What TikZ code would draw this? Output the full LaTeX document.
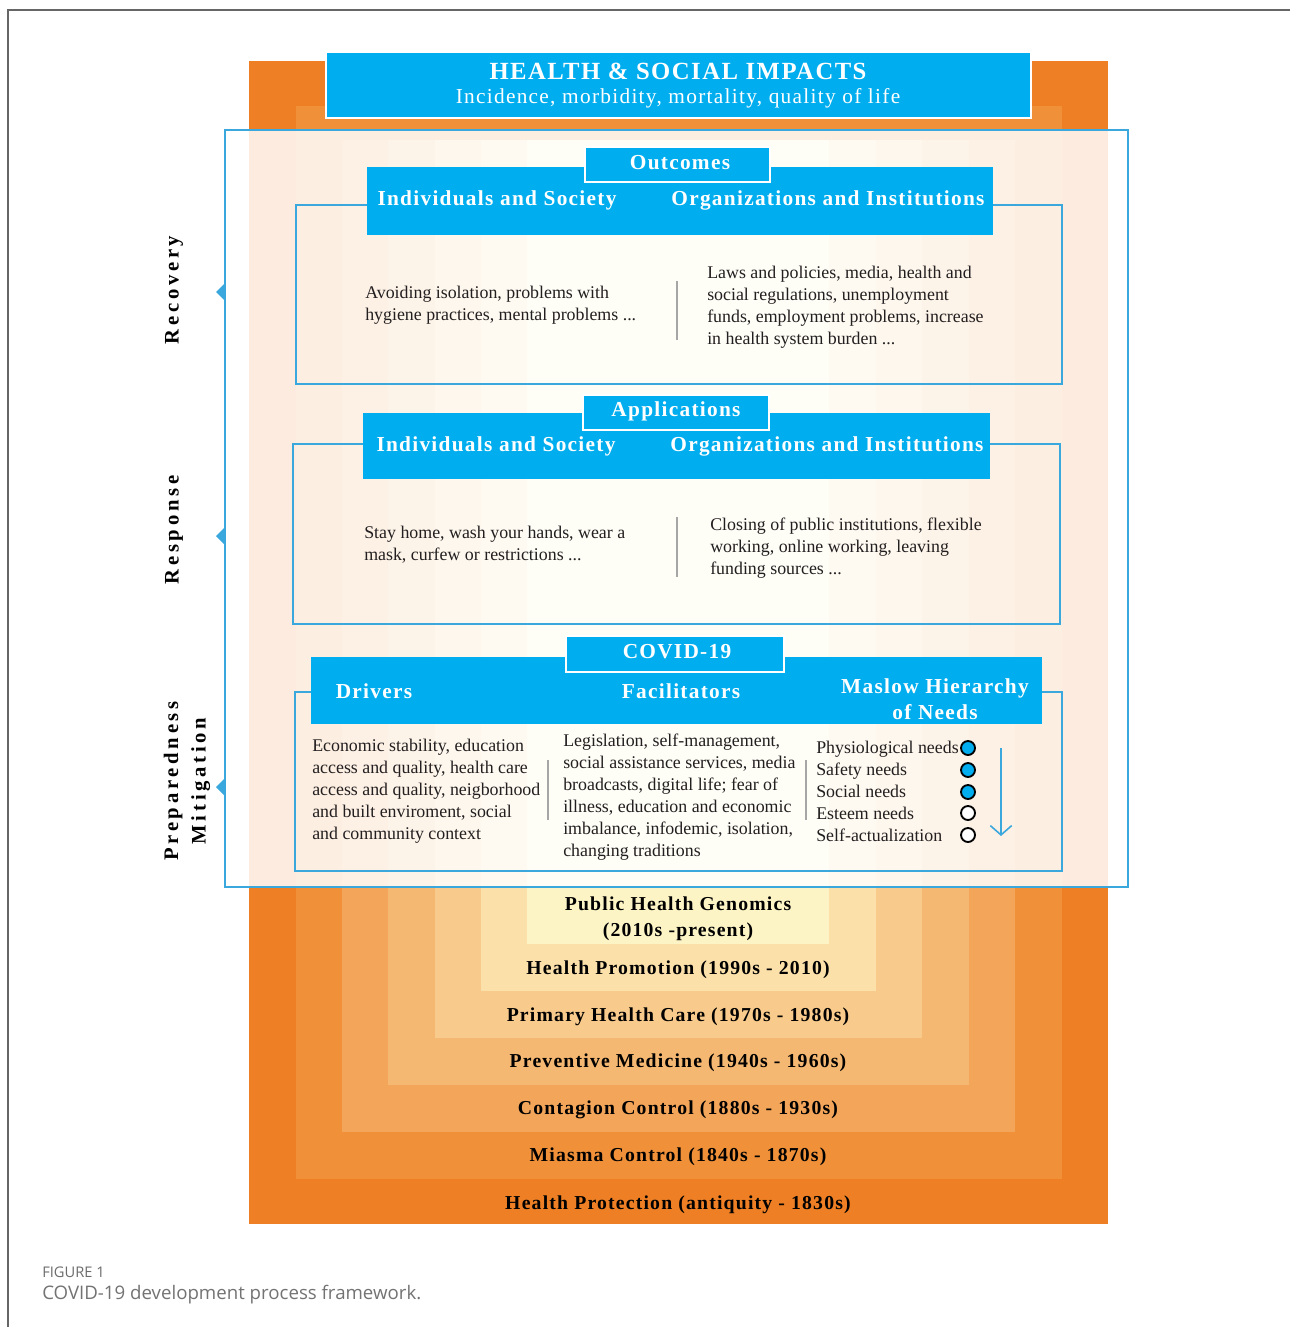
\documentclass[tikz,border=0pt]{standalone}
\usepackage{fontspec}
\setmainfont{Liberation Serif}
\newfontfamily\spfont{Liberation Serif}[LetterSpace=6]
\newfontfamily\wideSp{Liberation Serif}[LetterSpace=18]
\newfontfamily\capfont{Open Sans}
\usetikzlibrary{arrows.meta}
\definecolor{cy}{HTML}{00AEEF}
\definecolor{bl}{HTML}{3AA8DC}
\definecolor{oA}{HTML}{EE7F24}
\definecolor{oB}{HTML}{F0913A}
\definecolor{oC}{HTML}{F3A55A}
\definecolor{oD}{HTML}{F5B872}
\definecolor{oE}{HTML}{F8CB8C}
\definecolor{oF}{HTML}{FBE0AA}
\definecolor{oG}{HTML}{FDF4C6}
\definecolor{txt}{HTML}{231F20}
\tikzset{
  band/.style={fill=cy},
  tabbox/.style={fill=cy, draw=white, line width=2.2},
  frame/.style={draw=bl, line width=1.5},
  divider/.style={draw=gray!70, line width=0.8},
  bhead/.style={text=white, font=\spfont\bfseries\fontsize{16}{19.5}\selectfont, inner sep=0pt},
  body/.style={text=txt, font=\fontsize{13.4}{16.5}\selectfont, align=left, inner sep=0pt, anchor=west},
  era/.style={text=black, font=\spfont\bfseries\fontsize{14.8}{19.5}\selectfont, inner sep=0pt},
  phase/.style={text=black, font=\wideSp\bfseries\fontsize{15.5}{21}\selectfont, rotate=90, inner sep=0pt, align=center},
  need/.style={circle, draw=black, line width=1.4, minimum size=10.5pt, inner sep=0pt},
  marker/.style={fill=bl}
}
\begin{document}
\begin{tikzpicture}[x=0.75pt,y=-0.75pt]
\useasboundingbox (0,0) rectangle (1290,1327);
\fill[white] (0,0) rectangle (1290,1327);
\draw[gray!80!black, line width=1.2] (8,1327) -- (8,10) -- (1290,10);

% nested eras
\fill[oA] (249,61) rectangle (1108,1224);
\fill[oB] (296,106) rectangle (1062,1179);
\fill[oC] (342,140) rectangle (1015,1132);
\fill[oD] (388,140) rectangle (969,1085);
\fill[oE] (435,140) rectangle (922,1038);
\fill[oF] (481,140) rectangle (876,991);
\fill[oG] (527,140) rectangle (829,944);

\node[era, align=center] (e7) at (678,919) {Public Health Genomics\\(2010s -present)};
\node[era] (e6) at (678,970) {Health Promotion (1990s - 2010)};
\node[era] (e5) at (678,1017) {Primary Health Care (1970s - 1980s)};
\node[era] (e4) at (678,1063) {Preventive Medicine (1940s - 1960s)};
\node[era] (e3) at (678,1110) {Contagion Control (1880s - 1930s)};
\node[era] (e2) at (678,1157) {Miasma Control (1840s - 1870s)};
\node[era] (e1) at (678,1205) {Health Protection (antiquity - 1830s)};

% header
\fill[tabbox] (326,52) rectangle (1031,118);
\node[text=white, font=\spfont\bfseries\fontsize{18.5}{21}\selectfont, inner sep=0pt] (h1) at (678,71) {HEALTH \& SOCIAL IMPACTS};
\node[text=white, font=\spfont\fontsize{16}{19}\selectfont, inner sep=0pt] (h2) at (678,98) {Incidence, morbidity, mortality, quality of life};

% overlay
\draw[frame, fill=white, fill opacity=0.85] (225,130) rectangle (1128,887);

% phase markers
\fill[marker] (225,283) -- (216,292) -- (225,301) -- cycle;
\fill[marker] (225,527) -- (216,536) -- (225,545) -- cycle;
\fill[marker] (225,778) -- (216,787) -- (225,796) -- cycle;
\node[phase] (p1) at (174,290) {Recovery};
\node[phase] (p2) at (174,530) {Response};
\node[phase, font=\wideSp\bfseries\fontsize{15.5}{20.5}\selectfont] (p3) at (187,781) {Preparedness\\Mitigation};

% ---- Outcomes
\draw[frame] (296,205) rectangle (1062,384);
\fill[band] (367,167) rectangle (993,235);
\fill[tabbox] (585,147) rectangle (770,182);
\node[bhead] (t1) at (680,163) {Outcomes};
\node[bhead] (a1) at (497,200) {Individuals and Society};
\node[bhead] (b1) at (828,200) {Organizations and Institutions};
\node[body] (a1t) at (365,305) {Avoiding isolation, problems with\\hygiene practices, mental problems ...};
\node[body] (b1t) at (707,307) {Laws and policies, media, health and\\social regulations, unemployment\\funds, employment problems, increase\\in health system burden ...};
\draw[divider] (677,281) -- (677,340);

% ---- Applications
\draw[frame] (293,444) rectangle (1060,624);
\fill[band] (363,413) rectangle (990,479);
\fill[tabbox] (583,395) rectangle (769,430);
\node[bhead] (t2) at (676,411) {Applications};
\node[bhead] (a2) at (496,446) {Individuals and Society};
\node[bhead] (b2) at (827,446) {Organizations and Institutions};
\node[body] (a2t) at (364,545) {Stay home, wash your hands, wear a\\mask, curfew or restrictions ...};
\node[body] (b2t) at (710,548) {Closing of public institutions, flexible\\working, online working, leaving\\funding sources ...};
\draw[divider] (677,517) -- (677,577);

% ---- COVID-19
\draw[frame] (295,692) rectangle (1062,871);
\fill[band] (311,657) rectangle (1042,724);
\fill[tabbox] (566,636) rectangle (784,672);
\node[bhead] (t3) at (677,652) {COVID-19};
\node[bhead] (d3) at (374,691) {Drivers};
\node[bhead] (f3) at (681,691) {Facilitators};
\node[bhead, align=center, font=\spfont\bfseries\fontsize{16}{19.5}\selectfont] (m3) at (935,699) {Maslow Hierarchy\\of Needs};
\node[body] (d3t) at (312,791) {Economic stability, education\\access and quality, health care\\access and quality, neigborhood\\and built enviroment, social\\and community context};
\node[body] (f3t) at (563,797) {Legislation, self-management,\\social assistance services, media\\broadcasts, digital life; fear of\\illness, education and economic\\imbalance, infodemic, isolation,\\changing traditions};
\node[body] (m3t) at (816,791) {Physiological needs\\Safety needs\\Social needs\\Esteem needs\\Self-actualization};
\draw[divider] (548,760) -- (548,820);
\draw[divider] (806,760) -- (806,820);
\node[need, fill=cy] (n1) at (968,748) {};
\node[need, fill=cy] (n2) at (968,770) {};
\node[need, fill=cy] (n3) at (968,792) {};
\node[need, fill=white] (n4) at (968,813) {};
\node[need, fill=white] (n5) at (968,835) {};
\coordinate (arS) at (1001,748);
\coordinate (arE) at (1001,836);
\draw[bl, line width=1.2, -{Straight Barb[length=7pt, width=16pt]}] (arS) -- (arE);

% caption
\node[anchor=west, inner sep=0pt, text=gray!85!black, font=\capfont\fontsize{11}{12}\selectfont] (cap1) at (42,1272) {FIGURE 1};
\node[anchor=west, inner sep=0pt, text=gray!90!black, font=\capfont\fontsize{14}{16}\selectfont] (cap2) at (42,1295) {COVID-19 development process framework.};
\end{tikzpicture}
\end{document}
